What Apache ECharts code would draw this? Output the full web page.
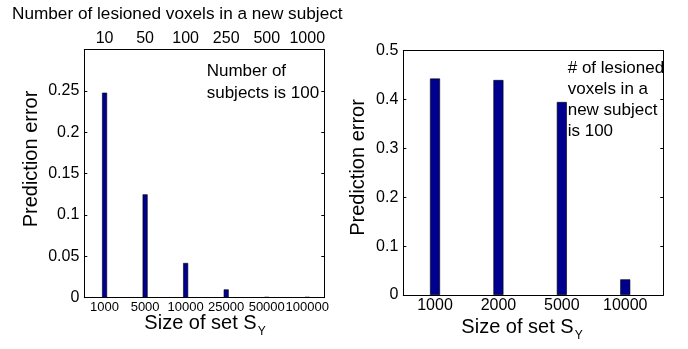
<!DOCTYPE html>
<html>
<head>
<meta charset="utf-8">
<script src="https://cdn.jsdelivr.net/npm/echarts@6/dist/echarts.min.js"></script>
<style>
  html, body { margin: 0; padding: 0; background: #fff; }
  #chart { width: 688px; height: 349px; }
</style>
</head>
<body>
<div id="chart"></div>
<script>
// Left panel: prediction error against the size of S_Y (100 subjects)
const leftSizes = ['1000', '5000', '10000', '25000', '50000', '100000'];
const leftVoxels = ['10', '50', '100', '250', '500', '1000'];
const leftError = [0.248, 0.125, 0.042, 0.010, 0.001, 0.001];

// Right panel: prediction error against the size of S_Y (100 lesioned voxels)
const rightSizes = ['1000', '2000', '5000', '10000'];
const rightError = [0.443, 0.440, 0.395, 0.032];

const FONT = 'Arial, "Liberation Sans", sans-serif';
const BAR = '#00008f';

const chart = echarts.init(document.getElementById('chart'), null, { renderer: 'canvas' });

const positions = arr => arr.map((_, i) => i + 1);
const black = { lineStyle: { color: '#000', width: 1 } };

function xAxis(grid, pos, min, max, names, fontSize, showLabels) {
  return {
    gridIndex: grid, type: 'value', position: pos, min: min, max: max,
    axisLine: { show: true, onZero: false, ...black },
    axisTick: { show: false },
    splitLine: { show: false },
    axisLabel: {
      show: showLabels,
      hideOverlap: false,
      customValues: positions(names),
      formatter: v => names[Math.round(v) - 1] || '',
      color: '#000', fontFamily: FONT, fontSize: fontSize, margin: 3
    }
  };
}

function yAxis(grid, pos, max, step, showLabels) {
  return {
    gridIndex: grid, type: 'value', position: pos, min: 0, max: max, interval: step,
    axisLine: { show: true, onZero: false, ...black },
    axisTick: { show: true, inside: true, length: 3, ...black },
    splitLine: { show: false },
    axisLabel: {
      show: showLabels,
      // the topmost 0.3 tick of the left panel carries no label
      formatter: v => (v > max - step / 2 && max === 0.3) ? '' : String(+v.toFixed(2)),
      color: '#000', fontFamily: FONT, fontSize: 16, margin: 5
    }
  };
}

const subStyle = {
  a: { fontSize: 20, fontFamily: FONT, fill: '#000' },
  b: { fontSize: 12, fontFamily: FONT, fill: '#000', padding: [18, 0, 0, 1] }
};

chart.setOption({
  animation: false,
  backgroundColor: '#fff',
  grid: [
    { left: 84.3, top: 49.7, width: 240, height: 248 },
    { left: 403.3, top: 50.7, width: 260, height: 244.3 }
  ],
  xAxis: [
    xAxis(0, 'bottom', 0.5, 6.42, leftSizes, 13, true),
    xAxis(0, 'top', 0.5, 6.42, leftVoxels, 16, true),
    xAxis(1, 'bottom', 0.5, 4.6, rightSizes, 16, true),
    xAxis(1, 'top', 0.5, 4.6, rightSizes, 16, false)
  ],
  yAxis: [
    yAxis(0, 'left', 0.3, 0.05, true),
    yAxis(0, 'right', 0.3, 0.05, false),
    yAxis(1, 'left', 0.5, 0.1, true),
    yAxis(1, 'right', 0.5, 0.1, false)
  ],
  series: [
    {
      type: 'bar', xAxisIndex: 0, yAxisIndex: 0, barWidth: 5,
      data: leftError.map((v, i) => [i + 1, v]),
      itemStyle: { color: BAR, borderColor: '#000', borderWidth: 0.6 }
    },
    {
      type: 'bar', xAxisIndex: 2, yAxisIndex: 2, barWidth: 10,
      data: rightError.map((v, i) => [i + 1, v]),
      itemStyle: { color: BAR, borderColor: '#000', borderWidth: 0.6 }
    }
  ],
  graphic: [
    {
      type: 'text', x: 12, y: 14,
      style: { text: 'Number of lesioned voxels in a new subject', font: '17.2px ' + FONT, fill: '#000', textVerticalAlign: 'middle' }
    },
    {
      type: 'text', x: 31.7, y: 159, rotation: Math.PI / 2,
      style: { text: 'Prediction error', font: '20px ' + FONT, fill: '#000', textAlign: 'center', textVerticalAlign: 'middle' }
    },
    {
      type: 'text', x: 358, y: 167.5, rotation: Math.PI / 2,
      style: { text: 'Prediction error', font: '20px ' + FONT, fill: '#000', textAlign: 'center', textVerticalAlign: 'middle' }
    },
    {
      type: 'text', x: 205, y: 323,
      style: { text: '{a|Size of set S}{b|Y}', rich: subStyle, textAlign: 'center', textVerticalAlign: 'middle' }
    },
    {
      type: 'text', x: 522, y: 327,
      style: { text: '{a|Size of set S}{b|Y}', rich: subStyle, textAlign: 'center', textVerticalAlign: 'middle' }
    },
    {
      type: 'text', x: 206.7, y: 60.7,
      style: { text: 'Number of\nsubjects is 100', font: '17px ' + FONT, lineHeight: 22, fill: '#000' }
    },
    {
      type: 'text', x: 567.7, y: 57.8,
      style: { text: '# of lesioned\nvoxels in a\nnew subject\nis 100', font: '17px ' + FONT, lineHeight: 21, fill: '#000' }
    }
  ]
});
</script>
</body>
</html>
